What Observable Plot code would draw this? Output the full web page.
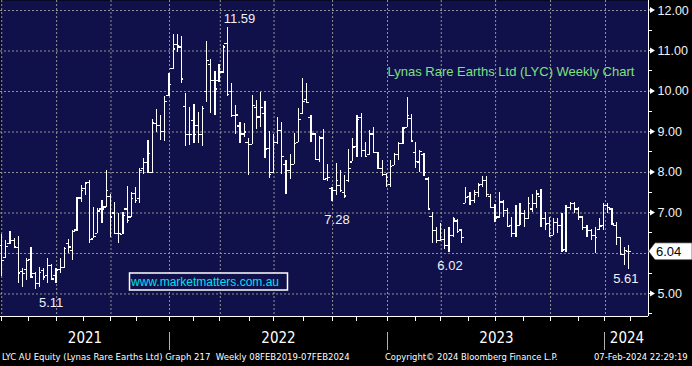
<!DOCTYPE html>
<html><head><meta charset="utf-8">
<script src="https://cdn.jsdelivr.net/npm/d3@7"></script>
<script src="https://cdn.jsdelivr.net/npm/@observablehq/plot@0.6"></script>
<style>
html,body{margin:0;padding:0;background:#000;}
#chart{width:692px;height:366px;overflow:hidden;}
</style></head><body><div id="chart"></div>
<script>
// ---- data (weekly OHLC, LYC) ----
const firstWeek = "2021-03-26";
const opens = [6.20,5.90,6.25,6.33,6.15,5.56,5.60,5.85,5.50,5.25,5.58,5.45,5.70,5.45,5.60,5.66,6.25,6.07,6.58,7.37,
7.60,7.75,6.36,6.50,7.10,7.15,7.40,7.00,6.50,6.47,7.10,6.90,7.49,7.35,8.09,8.25,8.00,9.20,9.16,9.02,
9.90,10.56,11.16,11.10,9.63,8.93,9.28,9.16,8.93,10.00,10.67,10.27,10.27,10.48,11.19,10.00,9.40,9.15,8.95,8.75,
8.70,9.60,9.37,9.45,8.60,8.00,8.75,9.03,8.20,8.05,8.20,8.75,9.45,9.80,9.35,8.95,8.32,8.85,7.85,7.60,
7.56,7.68,7.50,7.80,8.26,8.65,9.35,8.55,8.45,8.95,8.50,8.10,7.95,7.70,8.17,8.45,8.72,9.12,9.33,8.50,
8.26,8.45,7.84,6.91,6.57,6.33,6.35,6.20,6.45,6.80,6.58,7.24,7.40,7.30,7.50,7.70,7.80,7.40,7.14,6.90,
7.27,7.06,6.70,6.50,6.70,6.98,6.86,7.10,7.23,7.40,6.86,6.75,6.45,6.77,6.70,6.10,7.14,7.23,7.10,6.90,
6.65,6.57,6.45,6.60,6.70,7.19,7.10,6.70,6.40,5.98,6.05];
const highs = [6.47,6.32,6.54,6.38,6.42,5.62,5.87,6.14,5.54,5.66,5.62,5.87,5.74,5.62,5.87,6.16,6.34,6.57,7.39,7.68,
7.76,7.79,7.14,7.10,7.31,8.05,7.45,7.27,6.98,7.00,7.65,7.50,7.62,8.09,8.34,8.80,9.32,9.55,9.41,9.88,
10.44,11.40,11.41,11.36,9.94,9.60,9.68,9.49,9.62,11.24,10.80,10.50,10.66,11.14,11.59,10.19,9.65,9.23,9.20,8.85,
9.90,9.78,9.98,9.76,9.02,8.95,9.37,9.24,8.30,8.45,8.96,9.57,10.31,10.19,9.40,8.96,8.90,9.06,8.20,7.62,
8.22,8.05,7.92,8.58,8.83,9.40,9.45,8.75,9.04,9.12,8.50,8.30,7.97,8.30,8.46,8.75,9.10,9.86,9.43,8.75,
8.54,8.46,7.88,7.00,6.65,6.75,6.60,6.65,6.88,6.85,6.60,7.64,7.50,7.56,7.72,7.89,7.90,7.45,7.20,7.51,
7.30,7.10,6.90,7.19,7.23,7.05,7.39,7.45,7.56,7.58,7.00,6.90,6.87,6.86,6.98,7.19,7.27,7.27,7.13,6.92,
6.69,6.60,6.65,6.86,7.23,7.23,7.12,6.77,6.40,6.16,6.20];
const lows = [5.43,5.88,6.22,6.12,5.27,5.17,5.33,5.40,5.11,5.17,5.33,5.25,5.33,5.25,5.50,5.62,5.99,5.83,6.55,7.27,
7.43,6.24,6.36,6.50,6.75,7.14,6.40,6.49,6.24,6.47,6.75,6.88,7.23,7.23,7.95,7.97,7.97,8.99,8.80,8.77,
9.88,10.54,10.97,10.20,8.65,8.67,8.71,8.71,8.63,9.72,9.45,9.41,10.23,10.45,9.88,9.37,8.94,8.72,8.87,7.92,
8.68,9.05,9.10,8.34,7.84,7.97,8.68,7.95,7.45,7.82,8.20,8.75,9.42,9.70,8.75,8.30,8.25,7.80,7.78,7.28,
7.43,7.50,7.35,7.76,8.26,8.38,8.38,8.38,8.42,8.50,8.09,7.90,7.64,7.64,8.17,8.30,8.70,9.10,8.77,8.09,
8.01,7.90,7.10,6.24,6.24,6.30,6.10,6.02,6.40,6.50,6.25,7.23,7.19,7.23,7.39,7.64,7.39,7.10,6.77,6.86,
6.90,6.65,6.40,6.40,6.69,6.65,6.85,7.02,7.10,6.65,6.57,6.40,6.45,6.49,6.03,6.03,7.05,6.98,6.81,6.57,
6.40,6.32,5.99,6.57,6.57,6.98,6.69,6.20,5.95,5.70,5.61];
const closes = [5.83,6.17,6.32,6.16,5.52,5.50,5.82,5.42,5.25,5.54,5.42,5.70,5.37,5.58,5.66,6.12,6.16,6.55,7.35,7.55,
7.74,6.34,6.42,7.05,7.10,7.55,6.90,6.50,6.49,6.94,6.82,7.35,7.31,8.05,8.25,8.46,9.24,9.16,9.02,9.75,
10.17,11.05,11.13,10.31,8.93,8.93,8.93,8.93,9.58,10.76,10.27,10.06,10.48,11.10,9.93,9.41,9.42,8.95,9.00,8.70,
9.65,9.37,9.60,8.57,7.96,8.75,9.03,8.40,8.05,8.20,8.72,9.30,9.75,9.72,8.95,8.32,8.85,7.82,7.87,7.56,
7.80,7.55,7.42,8.10,8.63,9.30,8.55,8.40,8.95,8.50,8.10,7.95,7.88,8.15,8.45,8.72,9.08,9.41,8.78,8.28,
8.52,8.00,7.10,6.57,6.32,6.35,6.20,6.45,6.85,6.55,6.40,7.39,7.30,7.45,7.68,7.80,7.45,7.14,6.86,7.27,
7.06,6.67,6.49,6.69,6.98,6.86,7.23,7.23,7.47,6.86,6.73,6.45,6.77,6.70,6.07,7.14,7.24,7.10,6.90,6.65,
6.57,6.45,6.40,6.68,7.19,7.14,6.73,6.40,5.98,6.07,6.04];

const yGridValues = [5, 6, 7, 8, 9, 10, 11, 12];
const yHalfValues = [4.5, 5.5, 6.5, 7.5, 8.5, 9.5, 10.5, 11.5];
const gridDates = ["2021-03-26","2021-06-26","2021-09-25","2022-01-01","2022-03-27","2022-06-25",
  "2022-10-01","2023-01-01","2023-04-01","2023-07-01","2023-10-01","2024-01-01"];
const midTickDates = ["2021-05-11","2021-08-10","2021-11-08","2022-02-11","2022-05-15","2022-08-15",
  "2022-11-11","2023-02-17","2023-05-17","2023-08-17","2023-11-17","2024-02-13"];
const yearLabels = ["2021", "2022", "2023", "2024"];
const yearStarts = ["2021-01-01", "2022-01-01", "2023-01-01", "2024-01-01", "2025-01-01"];
const annotWeeks = [54, 79, 107, 150, 8];
const annotValues = [11.59, 7.28, 6.02, 5.61, 5.11];
const lastPrice = 6.04;
const titleText = "Lynas Rare Earths Ltd (LYC) Weekly Chart";
const watermark = "www.marketmatters.com.au";
const footerTexts = ["LYC AU Equity (Lynas Rare Earths Ltd) Graph 217  Weekly 08FEB2019-07FEB2024",
  "Copyright\u00A9 2024 Bloomberg Finance L.P.", "07-Feb-2024 22:29:19"];

// ---- build ----
const FONT = "'Liberation Sans', Arial, sans-serif";
const NARROW = "'Liberation Sans Narrow', 'DejaVu Sans Condensed', 'Liberation Sans', sans-serif";
const NAVY = "#10104a";
const GRID = "#949494";
const xDomain = [new Date("2021-03-24"), new Date("2024-03-13")];
const yDomain = [4.444, 12.247];

const weekDate = i => d3.utcDay.offset(new Date(firstWeek), 7 * i);
const bars = opens.map((o, i) => ({date: weekDate(i), open: o, high: highs[i], low: lows[i], close: closes[i]}));
const annots = annotWeeks.map((w, i) => ({date: weekDate(w), value: annotValues[i], label: annotValues[i].toFixed(2)}));
const annotOffset = {"11.59": [12, -8], "7.28": [5, 18], "6.02": [1, 13], "5.61": [-3, 10], "5.11": [16, 13]};
// axis labels hidden behind the last-price tag are not drawn
const axisLabels = yGridValues.filter(v => Math.abs(v - lastPrice) > 0.2);

const years = yearLabels.map((label, i) => {
  const a = Math.max(+new Date(yearStarts[i]), +xDomain[0]);
  const b = Math.min(+new Date(yearStarts[i + 1]), +xDomain[1]);
  return {label, mid: new Date((a + b) / 2)};
});

const tickLen = 100; // hours for open/close ticks
const plot = Plot.plot({
  width: 692, height: 366,
  marginTop: 0, marginRight: 44, marginBottom: 50, marginLeft: 0,
  style: {background: "#000", overflow: "visible", fontFamily: FONT},
  x: {type: "utc", domain: xDomain, axis: null},
  y: {domain: yDomain, axis: null},
  marks: [
    Plot.frame({fill: NAVY, stroke: "none"}),
    Plot.ruleY(yGridValues, {y: d => d, stroke: GRID, strokeDasharray: "2,2", strokeWidth: 1}),
    Plot.ruleX(gridDates, {x: d => new Date(d), stroke: GRID, strokeDasharray: "2,2", strokeWidth: 1}),
    Plot.text([titleText], {frameAnchor: "top-left", dx: 387, dy: 66, textAnchor: "start", fill: "#7fe07f", fontSize: 13, fontFamily: FONT}),
    Plot.ruleX(bars, {x: "date", y1: "low", y2: "high", stroke: "#fff", strokeWidth: 1.2, shapeRendering: "crispEdges"}),
    Plot.ruleY(bars, {y: "open", x1: d => d3.utcHour.offset(d.date, -tickLen), x2: "date", stroke: "#fff", strokeWidth: 1.2, shapeRendering: "crispEdges"}),
    Plot.ruleY(bars, {y: "close", x1: "date", x2: d => d3.utcHour.offset(d.date, tickLen), stroke: "#fff", strokeWidth: 1.2, shapeRendering: "crispEdges"}),
    ...annots.map(a => Plot.text([a], {x: "date", y: "value", text: "label", dx: annotOffset[a.label][0], dy: annotOffset[a.label][1], fill: "#f2f2f2", fontSize: 13, fontFamily: FONT})),
    Plot.ruleX([xDomain[1]], {stroke: "#fff", strokeWidth: 1}),
    Plot.ruleY([yDomain[0]], {stroke: "#fff", strokeWidth: 1}),
    Plot.text(axisLabels, {y: d => d, frameAnchor: "right", text: d => d.toFixed(2), dx: 9, textAnchor: "start", fill: "#f0f0f0", fontSize: 12.5, fontFamily: FONT}),
    Plot.text(years, {x: "mid", text: "label", frameAnchor: "bottom", dy: 26, fill: "#fff", fontSize: 15, fontFamily: NARROW})
  ]
});
document.getElementById("chart").appendChild(plot);

// ---- chrome drawn with the plot's own scales ----
const xs = plot.scale("x"), ys = plot.scale("y");
const X = d => xs.apply(d instanceof Date ? d : new Date(d));
const Y = v => ys.apply(v);
const svg = d3.select(plot);
const right = X(xDomain[1]), bottom = Y(yDomain[0]);

// bottom ticks
svg.append("g").attr("stroke", "#fff").attr("shape-rendering", "crispEdges")
  .selectAll("line").data(gridDates.concat(midTickDates)).join("line")
  .attr("x1", d => X(d)).attr("x2", d => X(d)).attr("y1", bottom).attr("y2", bottom + 5);
// year dividers
svg.append("g").attr("stroke", "#b0b0b0").attr("shape-rendering", "crispEdges")
  .selectAll("line").data(yearStarts.filter(d => new Date(d) > xDomain[0] && new Date(d) < xDomain[1])).join("line")
  .attr("x1", d => X(d)).attr("x2", d => X(d)).attr("y1", bottom + 16).attr("y2", bottom + 34);
// right axis minor ticks
svg.append("g").attr("stroke", "#fff").attr("shape-rendering", "crispEdges")
  .selectAll("line").data(yHalfValues.filter(v => v > yDomain[0])).join("line")
  .attr("x1", right).attr("x2", right + 4).attr("y1", d => Y(d)).attr("y2", d => Y(d));
// right axis triangles
svg.append("g").attr("fill", "#fff")
  .selectAll("path").data(axisLabels).join("path")
  .attr("d", d => `M${right},${Y(d) - 0.5}h2v-2.5l5,3l-5,3v-2.5h-2z`);
// footer line: font size fitted so each text has its measured width in the picture
const footerX = [2, 385, 594], footerW = [348, 173, 94];
svg.append("g").attr("fill", "#fff").attr("font-family", NARROW).attr("text-anchor", "start")
  .selectAll("text").data(footerTexts).join("text")
  .attr("x", (d, i) => footerX[i]).attr("y", bottom + 41).attr("dy", "0.35em")
  .attr("font-size", 10.5)
  .text(d => d)
  .each(function(d, i) {
    const w = this.getComputedTextLength();
    if (w > 0) this.setAttribute("font-size", (10.5 * footerW[i] / w).toFixed(2));
  });
// watermark box
svg.append("rect").attr("x", 129.5).attr("y", 273).attr("width", 158).attr("height", 17)
  .attr("fill", NAVY).attr("stroke", "#fff").attr("stroke-width", 1.5);
svg.append("text").attr("x", 131).attr("y", 281.5).attr("dy", "0.35em").attr("text-anchor", "start")
  .attr("fill", "#00e0f0").attr("font-size", 12).attr("font-family", FONT).text(watermark);
// last price tag
const yp = Y(lastPrice);
svg.append("path").attr("d", `M${right + 0.5},${yp} L${right + 7},${yp - 8.5} H692 V${yp + 8.5} H${right + 7} Z`)
  .attr("fill", "#fff").attr("stroke", "#222").attr("stroke-width", 0.6);
svg.append("text").attr("x", right + 8).attr("y", yp).attr("dy", "0.36em").attr("text-anchor", "start")
  .attr("fill", "#000").attr("font-size", 13).attr("font-family", FONT).text(lastPrice.toFixed(2));
</script>
</body></html>
